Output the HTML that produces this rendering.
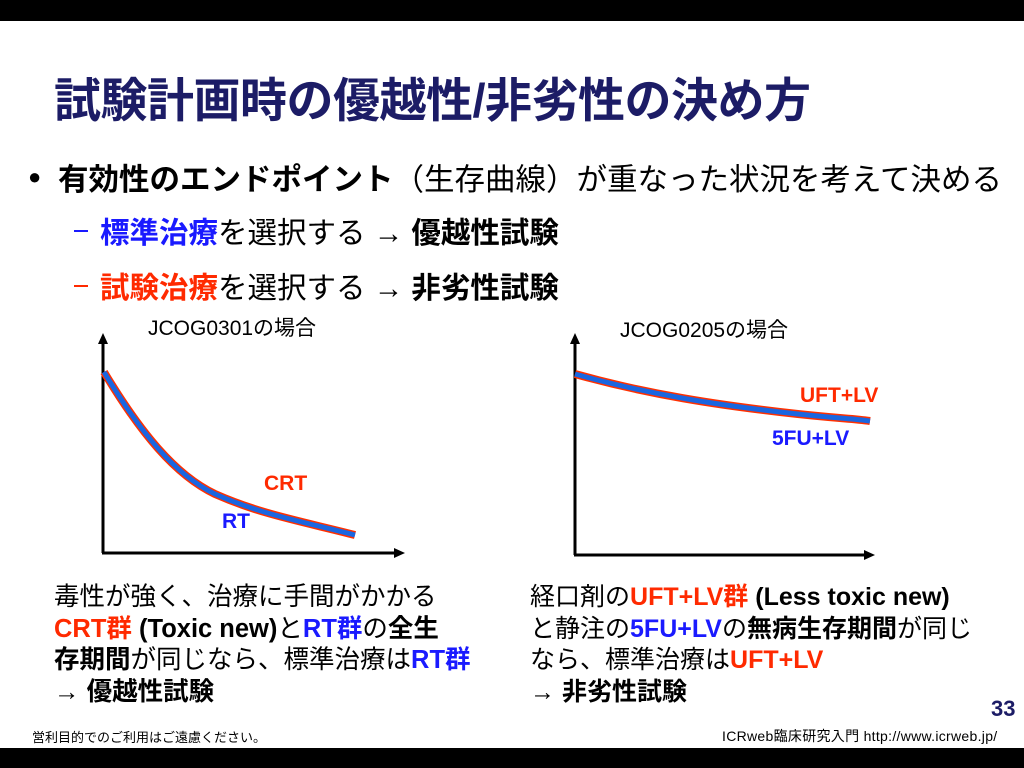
<!DOCTYPE html>
<html><head><meta charset="utf-8"><style>
body{margin:0;width:1024px;height:768px;background:#fff;position:relative;overflow:hidden;font-family:"Liberation Sans","Noto Sans CJK JP",sans-serif;}
.a{position:absolute;white-space:nowrap;}
.b{font-weight:bold}
.r{color:#ff2a00}.bl{color:#1a1aff}
</style></head><body>
<div class="a" style="left:0;top:0;width:1024px;height:21px;background:#000"></div>
<div class="a" style="left:0;top:748px;width:1024px;height:20px;background:#000"></div>
<div class="a b" style="left:54px;top:62px;font-size:47px;color:#1c1c66;letter-spacing:-0.5px">試験計画時の優越性/非劣性の決め方</div>
<div class="a" style="left:28px;top:164px;font-size:22px;">●</div>
<div class="a" style="left:58px;top:155px;font-size:30.5px;color:#000;"><b>有効性のエンドポイント</b>（生存曲線）が重なった状況を考えて決める</div>
<div class="a" style="left:74px;top:230px;width:14px;height:2px;background:#1a1aff"></div>
<div class="a" style="left:100px;top:210px;font-size:29.5px;"><b class="bl">標準治療</b>を選択する → <b>優越性試験</b></div>
<div class="a" style="left:74px;top:285px;width:14px;height:2px;background:#ff2a00"></div>
<div class="a" style="left:100px;top:265px;font-size:29.5px;"><b class="r">試験治療</b>を選択する → <b>非劣性試験</b></div>
<div class="a" style="left:148px;top:312px;font-size:21px;">JCOG0301の場合</div>
<div class="a" style="left:620px;top:314px;font-size:21px;">JCOG0205の場合</div>
<svg class="a" style="left:0;top:0" width="1024" height="768">
<g stroke="#000" stroke-width="3" fill="none">
<path d="M103,553V340"/><path d="M102,553H398"/>
<path d="M575,555V340"/><path d="M574,555H868"/>
</g>
<g fill="#000">
<path d="M98,344L103,333L108,344z"/><path d="M394,548L405,553L394,558z"/>
<path d="M570,344L575,333L580,344z"/><path d="M864,550L875,555L864,560z"/>
</g>
<path d="M104,372 C140,432 175,475 215,494 C260,514 300,521 355,535" stroke="#ff3000" stroke-width="8" fill="none"/>
<path d="M104,372 C140,432 175,475 215,494 C260,514 300,521 355,535" stroke="#1a66e0" stroke-width="5" fill="none"/>
<path d="M575,374 C650,395 720,405 780,412 S850,418 870,421" stroke="#ff3000" stroke-width="8" fill="none"/>
<path d="M575,374 C650,395 720,405 780,412 S850,418 870,421" stroke="#1a66e0" stroke-width="5" fill="none"/>
</svg>
<div class="a b r" style="left:264px;top:472px;font-size:21px;">CRT</div>
<div class="a b bl" style="left:222px;top:510px;font-size:21px;">RT</div>
<div class="a b r" style="left:800px;top:384px;font-size:21px;">UFT+LV</div>
<div class="a b bl" style="left:772px;top:427px;font-size:21px;">5FU+LV</div>
<div class="a" style="left:54px;top:582px;font-size:25.5px;line-height:31.5px;">毒性が強く、治療に手間がかかる<br><b class="r">CRT群</b> <b>(Toxic new)</b>と<b class="bl">RT群</b>の<b>全生</b><br><b>存期間</b>が同じなら、標準治療は<b class="bl">RT群</b><br>→ <b>優越性試験</b></div>
<div class="a" style="left:530px;top:582px;font-size:25px;line-height:31.5px;">経口剤の<b class="r">UFT+LV群</b> <b>(Less toxic new)</b><br>と静注の<b class="bl">5FU+LV</b>の<b>無病生存期間</b>が同じ<br>なら、標準治療は<b class="r">UFT+LV</b><br>→ <b>非劣性試験</b></div>
<div class="a b" style="left:991px;top:696px;font-size:22px;color:#1c1c66;">33</div>
<div class="a" style="left:32px;top:727px;font-size:13px;">営利目的でのご利用はご遠慮ください。</div>
<div class="a" style="left:722px;top:726px;font-size:14px;letter-spacing:0.3px">ICRweb臨床研究入門 http://www.icrweb.jp/</div>
</body></html>
